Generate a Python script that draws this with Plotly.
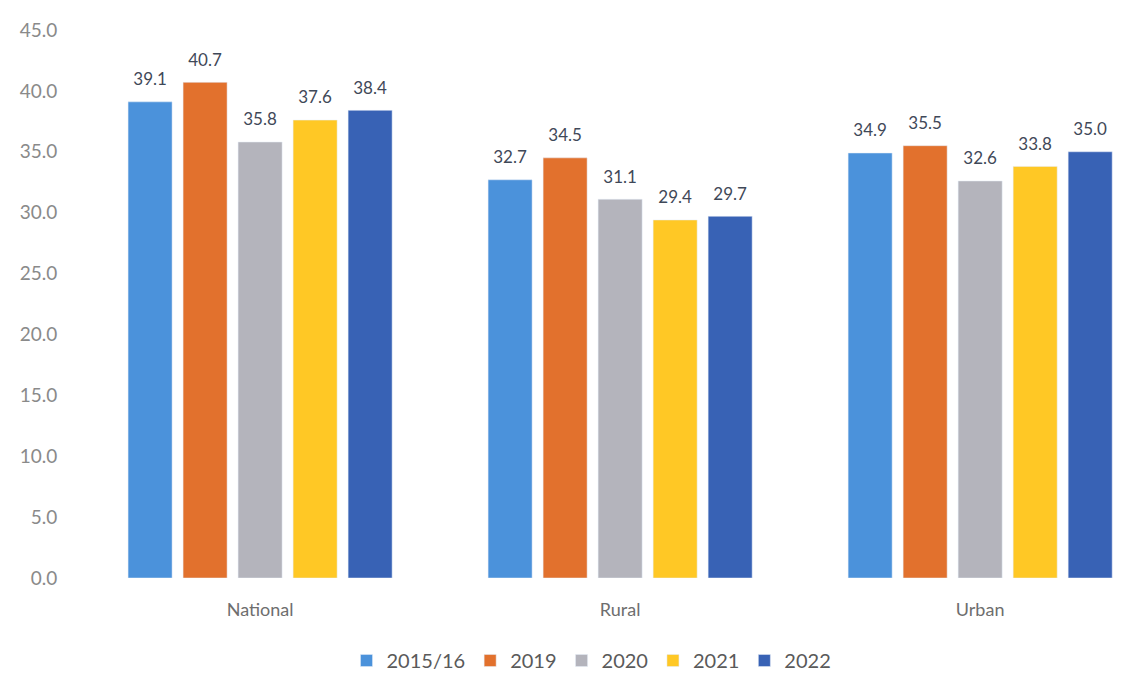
import plotly.graph_objects as go

categories = ["National", "Rural", "Urban"]
series_names = ["2015/16", "2019", "2020", "2021", "2022"]
v_2015_16 = [39.1, 32.7, 34.9]
v_2019 = [40.7, 34.5, 35.5]
v_2020 = [35.8, 31.1, 32.6]
v_2021 = [37.6, 29.4, 33.8]
v_2022 = [38.4, 29.7, 35.0]
colors = ["#4B92DB", "#E2712D", "#B4B4BC", "#FFC825", "#3862B5"]
y_ticks = [0, 5, 10, 15, 20, 25, 30, 35, 40, 45]

values = [v_2015_16, v_2019, v_2020, v_2021, v_2022]
FONT = "Lato"

fig = go.Figure()
for name, vals, col in zip(series_names, values, colors):
    fig.add_trace(go.Bar(
        x=categories, y=vals, name=name, marker_color=col,
        text=[f"<span style='font-size:17px'>{v:.1f}</span><br> " for v in vals],
        textposition="outside",
        textfont=dict(size=9, color="#3F4858", family=FONT),
        cliponaxis=False,
    ))

fig.update_layout(
    barmode="group", bargap=0.236, bargroupgap=0.2,
    width=1105, height=672,
    margin=dict(l=62, r=0, t=22, b=102),
    plot_bgcolor="white", paper_bgcolor="white",
    font=dict(family=FONT, color="#6E6E6E", size=18),
    legend=dict(orientation="h", x=0.5, xanchor="center",
                yref="container", y=0, yanchor="bottom",
                font=dict(size=20, color="#5A5A5A", family=FONT), itemwidth=30,
                traceorder="normal"),
    showlegend=True,
)
fig.update_xaxes(range=[-0.528, 2.369], showline=False, ticks="outside",
                 ticklen=15, tickcolor="rgba(0,0,0,0)",
                 tickfont=dict(size=18, color="#6E6E6E", family=FONT))
fig.update_yaxes(range=[0, 45], tickvals=y_ticks,
                 ticktext=[f"{t:.1f}" for t in y_ticks],
                 showgrid=False, zeroline=False, showline=False,
                 ticks="outside", ticklen=8, tickcolor="rgba(0,0,0,0)",
                 tickfont=dict(size=19, color="#8A8A8A", family=FONT))

fig.write_html("out.html")
